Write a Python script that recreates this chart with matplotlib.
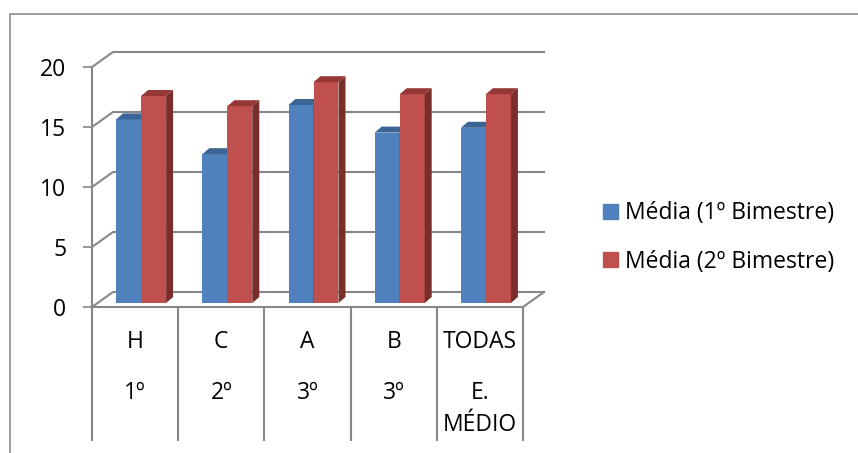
import numpy as np
import matplotlib
matplotlib.use("Agg")
from matplotlib import pyplot as plt
from matplotlib.patches import Polygon, Patch
from matplotlib.lines import Line2D

plt.rcParams['font.family'] = ['Open Sans', 'DejaVu Sans']

turmas = ["H", "C", "A", "B", "TODAS"]
series = ["1º", "2º", "3º", "3º", "E.\nMÉDIO"]
media_1 = [15.3, 12.4, 16.5, 14.2, 14.6]
media_2 = [17.25, 16.4, 18.4, 17.4, 17.4]
labels = ["Média (1º Bimestre)", "Média (2º Bimestre)"]

W, H = 858, 453
fs = 16.5
fig = plt.figure(figsize=(W / 100, H / 100), dpi=100)
ax = fig.add_axes([92 / W, 146 / H, 431 / W, 240 / H])
ax.set_xlim(-0.5, 4.5)
ax.set_ylim(0, 20)

# pixels per data unit
px_x = 431 / 5
px_y = 240 / 20
grid_c = "#878787"

# back wall / side wall gridlines with a little depth
gdx, gdy = 21 / px_x, 15 / px_y
for v in [0, 5, 10, 15, 20]:
    ax.plot([-0.5, -0.5 + gdx, 4.5 + gdx], [v, v + gdy, v + gdy],
            color=grid_c, lw=1.5, clip_on=False, zorder=1)
# floor front edge and right edge
ax.plot([-0.5, 4.5, 4.5 + gdx], [0, 0, gdy], color=grid_c, lw=1.5,
        clip_on=False, zorder=1)

for s in ["top", "right", "bottom"]:
    ax.spines[s].set_visible(False)
ax.spines["left"].set_color(grid_c)
ax.spines["left"].set_linewidth(1.5)
ax.set_yticks([0, 5, 10, 15, 20])
ax.set_xticks([])
ax.tick_params(axis="y", length=6.5, width=1.2, color=grid_c, pad=12,
               labelsize=fs)

# bars (pseudo 3d)
x = np.arange(len(turmas))
w = 0.29
bx, by = 6 / px_x, 4 / px_y
ddx, ddy = 7 / px_x, 6 / px_y
styles = [("#4F81BD", "#3B6497", "#2F4F78"), ("#C0504D", "#953735", "#7A2E2C")]
for s, vals in enumerate([media_1, media_2]):
    front, top, side = styles[s]
    left = x - w + s * w + bx
    ax.bar(left, vals, width=w, bottom=by, align="edge", color=front,
           zorder=3 + s)
    for l, v in zip(left, vals):
        t = by + v
        ax.add_patch(Polygon([(l, t), (l + w, t), (l + w + ddx, t + ddy),
                              (l + ddx, t + ddy)], closed=True, color=top,
                             lw=0, zorder=3 + s))
        ax.add_patch(Polygon([(l + w, by), (l + w, t), (l + w + ddx, t + ddy),
                              (l + w + ddx, by + ddy)], closed=True,
                             color=side, lw=0, zorder=3 + s))

# category table under the floor
ax.vlines(np.arange(-0.5, 5, 1), -134 / px_y, 0, color=grid_c, lw=1.5,
          clip_on=False)
for i in range(len(turmas)):
    ax.text(x[i], -34.7 / px_y, turmas[i], ha="center", va="center",
            fontsize=fs)
    for j, line in enumerate(series[i].split("\n")):
        ax.text(x[i], -(86 + 32 * j) / px_y, line, ha="center",
                va="center", fontsize=fs)

handles = [Patch(color=styles[0][0]), Patch(color=styles[1][0])]
fig.legend(handles, labels, loc="center left",
           bbox_to_anchor=(603 / W, (H - 237.5) / H), frameon=False,
           fontsize=fs, handlelength=0.65, handleheight=0.65,
           handletextpad=0.3, labelspacing=1.05, borderpad=0,
           borderaxespad=0)

# outer chart border
fig.add_artist(Line2D([9.5 / W, 9.5 / W, 1], [0, (H - 14) / H, (H - 14) / H],
                      color="#8C8C8C", lw=1.2, transform=fig.transFigure))

fig.savefig("out.png", dpi=100)
